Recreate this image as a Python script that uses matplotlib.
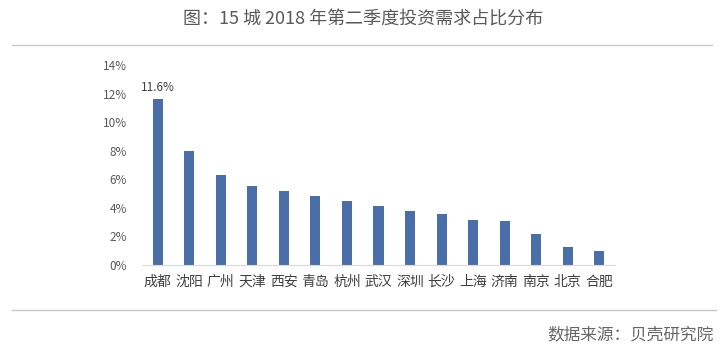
import matplotlib
matplotlib.use('Agg')
import matplotlib.pyplot as plt
from matplotlib.lines import Line2D

plt.rcParams['font.family'] = ['Noto Sans CJK SC', 'DejaVu Sans']

# data
cities = ['成都', '沈阳', '广州', '天津', '西安', '青岛', '杭州', '武汉',
          '深圳', '长沙', '上海', '济南', '南京', '北京', '合肥']
share = [11.6, 8.0, 6.3, 5.5, 5.2, 4.8, 4.5, 4.1,
         3.8, 3.6, 3.15, 3.05, 2.15, 1.25, 0.95]
yticks = [0, 2, 4, 6, 8, 10, 12, 14]

title = '图：15 城 2018 年第二季度投资需求占比分布'
source = '数据来源：贝壳研究院'

fig = plt.figure(figsize=(7.26, 3.6), dpi=100)
ax = fig.add_axes([142/726, 1-265/360, (615-142)/726, 200/360])

x = range(len(cities))
ax.bar(x, share, width=0.32, color='#4a6fa8')
ax.text(0, share[0] + 0.35, '11.6%', ha='center', va='bottom',
        fontsize=8.5, color='#404040')

ax.set_xlim(-0.5, len(cities) - 0.5)
ax.set_ylim(0, 14)
ax.set_yticks(yticks)
ax.set_yticklabels([f'{t}%' for t in yticks], fontsize=8.5, color='#595959')
ax.set_xticks(list(x))
ax.set_xticklabels(cities, fontsize=10, color='#404040')
ax.tick_params(axis='both', length=0)
ax.tick_params(axis='y', pad=11)
ax.tick_params(axis='x', pad=7)

for s in ['top', 'right', 'left']:
    ax.spines[s].set_visible(False)
ax.spines['bottom'].set_color('#d9d9d9')

fig.text(0.5, 1-20/360, title, ha='center', va='center',
         fontsize=13, color='#595959')
fig.add_artist(Line2D([12/726, 712/726], [1-45/360, 1-45/360],
                      color='#c8c8c8', lw=1))
fig.add_artist(Line2D([12/726, 716/726], [1-310/360, 1-310/360],
                      color='#c8c8c8', lw=1))
fig.text(714/726, 1-335/360, source, ha='right', va='center',
         fontsize=12, color='#666666')

fig.savefig('out.png', dpi=100)
